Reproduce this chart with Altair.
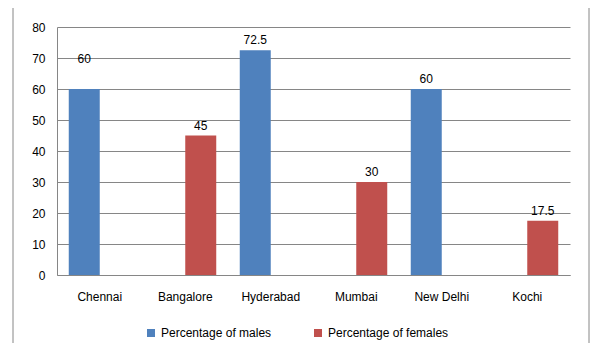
import altair as alt
import pandas as pd

cities = ["Chennai", "Bangalore", "Hyderabad", "Mumbai", "New Delhi", "Kochi"]
series = ["Percentage of males", "Percentage of females"]
males = [60, 0, 72.5, 0, 60, 0]
females = [0, 45, 0, 30, 0, 17.5]
colors = ["#4F81BD", "#C0504D"]

rows = []
for c, m, f in zip(cities, males, females):
    rows.append({"city": c, "series": series[0], "value": m})
    rows.append({"city": c, "series": series[1], "value": f})
df = pd.DataFrame(rows)

FONT = "Liberation Sans"
GRID = "#868686"

x_enc = alt.X("city:N", sort=cities,
              scale=alt.Scale(paddingInner=0.275, paddingOuter=0.1375),
              axis=alt.Axis(title=None, labelAngle=0, ticks=False, domainColor=GRID,
                            labelPadding=16, labelFontSize=12, labelColor="#000000",
                            labelFont=FONT))
xo_enc = alt.XOffset("series:N", sort=series, scale=alt.Scale(paddingInner=0, paddingOuter=0))
y_enc = alt.Y("value:Q", scale=alt.Scale(domain=[0, 80], nice=False),
              axis=alt.Axis(title=None, values=list(range(0, 81, 10)), ticks=False,
                            domainColor=GRID, gridColor=GRID, grid=True, labelPadding=12,
                            labelFontSize=12, labelColor="#000000", labelFont=FONT))

base = alt.Chart(df)

bars = base.mark_bar().encode(
    x=x_enc, xOffset=xo_enc, y=y_enc,
    color=alt.Color("series:N", sort=series,
                    scale=alt.Scale(domain=series, range=colors),
                    legend=alt.Legend(title=None, orient="none", legendX=88, legendY=300,
                                      direction="horizontal", symbolType="square",
                                      symbolSize=64, symbolStrokeWidth=0,
                                      labelFontSize=12, labelFont=FONT,
                                      labelColor="#000000", columnPadding=40,
                                      labelOffset=4)),
)

labels = base.mark_text(baseline="bottom", dy=-3, fontSize=12, font=FONT, color="#000000").encode(
    x=x_enc, xOffset=xo_enc, y=y_enc, text=alt.Text("value:Q")
).transform_filter("datum.value > 0 && datum.city != 'Chennai'")

labels_ch = base.mark_text(baseline="bottom", dy=-23, fontSize=12, font=FONT, color="#000000").encode(
    x=x_enc, xOffset=xo_enc, y=y_enc, text=alt.Text("value:Q")
).transform_filter("datum.value > 0 && datum.city == 'Chennai'")

one = pd.DataFrame({"k": [0]})
frame_left = alt.Chart(one).mark_rule(color=GRID, strokeWidth=1).encode(
    x=alt.value(-44), y=alt.value(-20), y2=alt.value(316))
frame_right = alt.Chart(one).mark_rule(color=GRID, strokeWidth=1).encode(
    x=alt.value(532), y=alt.value(-20), y2=alt.value(316))
frame_top = alt.Chart(one).mark_rule(color=GRID, strokeWidth=1).encode(
    x=alt.value(-44), x2=alt.value(532), y=alt.value(-20))

chart = alt.layer(bars, labels, labels_ch, frame_left, frame_right, frame_top).properties(
    width=513, height=248,
    autosize=alt.AutoSizeParams(type="none"),
    padding={"left": 49, "top": 19, "right": 25, "bottom": 79},
    background="white",
).configure_view(stroke=None)

chart.save("out.html", embed_options={"renderer": "svg", "actions": False})
